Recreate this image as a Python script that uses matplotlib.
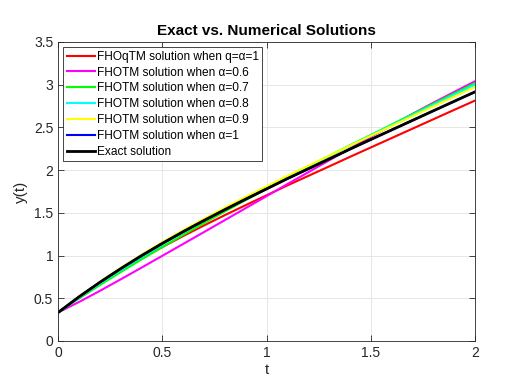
import matplotlib
matplotlib.use('Agg')
import matplotlib.pyplot as plt

plt.rcParams['font.family'] = ['Liberation Sans', 'DejaVu Sans']

# t grid (step 0.1) and values
t = [0.0, 0.1, 0.2, 0.3, 0.4, 0.5, 0.6, 0.7, 0.8, 0.9, 1.0,
     1.1, 1.2, 1.3, 1.4, 1.5, 1.6, 1.7, 1.8, 1.9, 2.0]

y_fhoqtm = [0.333, 0.508, 0.670, 0.821, 0.964, 1.099, 1.228, 1.352, 1.473, 1.590, 1.705,
            1.821, 1.932, 2.043, 2.155, 2.265, 2.375, 2.485, 2.595, 2.705, 2.814]
y_a06 = [0.333, 0.456, 0.586, 0.721, 0.858, 0.997, 1.136, 1.275, 1.415, 1.555, 1.695,
         1.837, 1.975, 2.114, 2.253, 2.390, 2.525, 2.658, 2.789, 2.915, 3.040]
y_a07 = [0.333, 0.496, 0.654, 0.806, 0.955, 1.100, 1.242, 1.380, 1.516, 1.649, 1.780,
         1.911, 2.037, 2.164, 2.291, 2.411, 2.533, 2.655, 2.777, 2.897, 3.017]
y_a08 = [0.333, 0.506, 0.671, 0.828, 0.980, 1.127, 1.269, 1.406, 1.539, 1.668, 1.794,
         1.920, 2.042, 2.164, 2.286, 2.406, 2.525, 2.644, 2.763, 2.882, 3.000]
y_a09 = [0.333, 0.519, 0.692, 0.855, 1.010, 1.157, 1.296, 1.430, 1.560, 1.686, 1.809,
         1.932, 2.050, 2.168, 2.286, 2.401, 2.516, 2.631, 2.746, 2.860, 2.974]
y_a10 = [0.333, 0.516, 0.686, 0.846, 0.998, 1.142, 1.279, 1.410, 1.537, 1.660, 1.780,
         1.900, 2.015, 2.130, 2.245, 2.358, 2.470, 2.582, 2.694, 2.805, 2.916]
y_exact = [0.333, 0.516, 0.686, 0.846, 0.998, 1.142, 1.279, 1.410, 1.537, 1.660, 1.780,
           1.900, 2.015, 2.130, 2.245, 2.358, 2.470, 2.582, 2.694, 2.805, 2.916]

fig = plt.figure(figsize=(5.05, 3.84), dpi=100)
ax = fig.add_axes([0.115, 0.112, 0.826, 0.779])

ax.plot(t, y_fhoqtm, color='red', lw=1.5, label='FHOqTM solution when q=α=1')
ax.plot(t, y_a06, color='magenta', lw=1.5, label='FHOTM solution when α=0.6')
ax.plot(t, y_a07, color='lime', lw=1.5, label='FHOTM solution when α=0.7')
ax.plot(t, y_a08, color='cyan', lw=1.5, label='FHOTM solution when α=0.8')
ax.plot(t, y_a09, color='yellow', lw=1.5, label='FHOTM solution when α=0.9')
ax.plot(t, y_a10, color='blue', lw=1.5, label='FHOTM solution when α=1')
ax.plot(t, y_exact, color='black', lw=2.0, label='Exact solution')

ax.set_xlim(0, 2)
ax.set_ylim(0, 3.5)
ax.set_xticks([0, 0.5, 1, 1.5, 2])
ax.set_xticklabels(['0', '0.5', '1', '1.5', '2'])
ax.set_yticks([0, 0.5, 1, 1.5, 2, 2.5, 3, 3.5])
ax.set_yticklabels(['0', '0.5', '1', '1.5', '2', '2.5', '3', '3.5'])

ax.grid(True, color='#e6e6e6', lw=0.7)
ax.set_axisbelow(True)
ax.tick_params(direction='in', length=4, colors='#262626', labelsize=10,
               top=True, right=True, width=0.6)
for s in ax.spines.values():
    s.set_color('#262626')
    s.set_linewidth(0.6)

ax.set_xlabel('t', fontsize=11, color='#262626', labelpad=2)
ax.set_ylabel('y(t)', fontsize=11, color='#262626', labelpad=4)
ax.set_title('Exact vs. Numerical Solutions', fontsize=11, fontweight='bold', pad=5)

leg = ax.legend(loc='upper left', fontsize=8.6, frameon=True, fancybox=False,
                framealpha=1, edgecolor='#262626', borderaxespad=0.45,
                handlelength=2.3, handletextpad=0.2, labelspacing=0.32,
                borderpad=0.3)
leg.get_frame().set_linewidth(0.6)

fig.savefig('out.png', dpi=100)
